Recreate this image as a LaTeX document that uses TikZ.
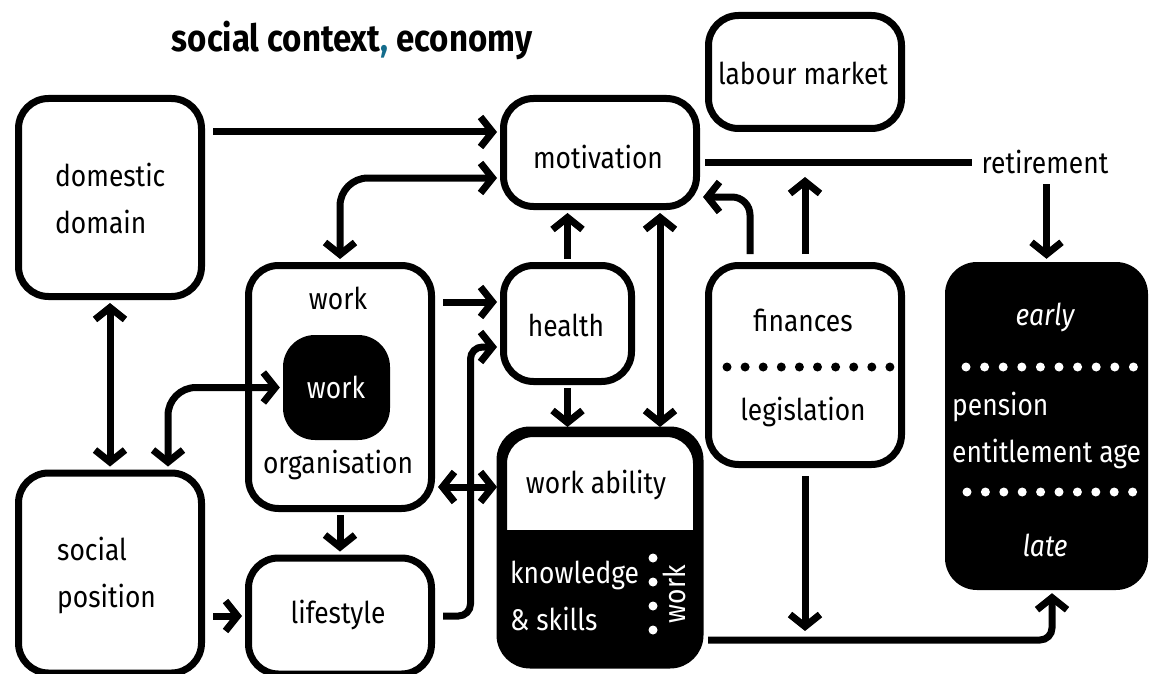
\documentclass[tikz,border=0pt]{standalone}
\usepackage{fontspec}
\setmainfont{Fira Sans}[FakeStretch=0.88]
\usetikzlibrary{arrows.meta,calc}
\definecolor{commateal}{HTML}{136C8C}

\begin{document}
\begin{tikzpicture}[x=1pt,y=-1pt,
  box/.style={draw=black, line width=7pt, rounded corners=30pt, fill=white, inner sep=0pt},
  solid box/.style={draw=none, fill=black, rounded corners=32pt, inner sep=0pt},
  lbl/.style={font=\fontsize{30}{47}\selectfont, inner sep=0pt, text=black},
  wlbl/.style={lbl, text=white},
  conn/.style={line width=7pt},
  tip/.tip={Straight Barb[sharp, length=12pt, width=30pt]},
  arr/.style={conn, -tip, shorten <=8pt, shorten >=3pt},
  arrtwo/.style={conn, tip-tip, shorten <=3pt, shorten >=3pt},
  dot/.style={circle, fill=white, inner sep=0pt, minimum size=9pt},
  bdot/.style={circle, fill=black, inner sep=0pt, minimum size=9pt},
]
\useasboundingbox (0,0) rectangle (1154,674);

% heading
\node[lbl, font=\fontsize{37.5}{44}\selectfont\bfseries] (title) at (352,40)
  {social context\textcolor{commateal}{,} economy};

% boxes
\node[box, minimum width=183pt, minimum height=198pt] (dom) at (110,197.5) {};
\node[box, minimum width=183pt, minimum height=200pt] (soc) at (110,573) {};
\node[box, minimum width=183pt, minimum height=243pt] (wo) at (340,387) {};
\node[solid box, minimum width=107pt, minimum height=105pt] (iw) at (336.5,387.5) {};
\node[box, minimum width=183pt, minimum height=116pt] (life) at (340,616) {};
\node[box, minimum width=193pt, minimum height=108pt] (mot) at (600,152.5) {};
\node[box, minimum width=128pt, minimum height=116pt] (health) at (567.5,323.5) {};
\node[box, minimum width=193pt, minimum height=228pt] (wa) at (600,547.5) {};
\node[box, minimum width=193pt, minimum height=113pt] (lab) at (805,72) {};
\node[box, minimum width=193pt, minimum height=199pt] (fin) at (805,365) {};
\node[solid box, minimum width=203pt, minimum height=328pt] (pen) at (1046.5,426) {};

% lower, filled part of the work ability box
\begin{scope}
  \clip[rounded corners=30pt] (wa.south west) rectangle (wa.north east);
  \fill[black] (wa.west |- 0,530) rectangle (wa.south east);
\end{scope}
\draw[line width=7pt, rounded corners=30pt] (wa.south west) rectangle (wa.north east);

% labels
\node[lbl, align=left, anchor=west] (domt) at (55,198) {domestic\\domain};
\node[lbl, align=left, anchor=west] (soct) at (57,575) {social\\position};
\node[lbl] (wot) at (338,298) {work};
\node[lbl] (wob) at (338,465) {organisation};
\node[wlbl] (iwt) at (336,387) {work};
\node[lbl] (lifet) at (338,615) {lifestyle};
\node[lbl] (mott) at (598,157) {motivation};
\node[lbl] (healtht) at (566,325) {health};
\node[lbl] (wat) at (596,485) {work ability};
\node[wlbl, align=left, anchor=west] (kst) at (510,596) {knowledge\\\& skills};
\node[wlbl, rotate=90] (wkt) at (674,594) {work};
\foreach \yy [count=\i] in {558,582,606,630}
  \node[dot] (wd\i) at (653,\yy) {};
\node[lbl] (labt) at (803,73) {labour market};
\node[lbl] (fint) at (803,320) {finances};
\foreach \i in {0,...,9}
  \node[bdot] (fd\i) at ({727+18.1*\i},367) {};
\node[lbl] (legt) at (803,412) {legislation};
\node[lbl] (ret) at (1045,162) {retirement};
\node[wlbl, font=\fontsize{30}{47}\selectfont\itshape] (early) at (1045,317) {early};
\foreach \i in {0,...,9}
  \node[dot] (pd\i) at ({966+18.6*\i},367) {};
\node[wlbl, align=left, anchor=west] (pent) at (952,430) {pension\\entitlement age};
\foreach \i in {0,...,9}
  \node[dot] (qd\i) at ({967+18.4*\i},492) {};
\node[wlbl, font=\fontsize{30}{47}\selectfont\itshape] (late) at (1045,545) {late};

% attachment points on box borders
\coordinate (motA) at ([yshift=20.5pt]mot.west);
\coordinate (motB) at ([yshift=-25.5pt]mot.west);
\coordinate (motC) at ([yshift=-44.5pt]mot.east);
\coordinate (motD) at ([yshift=-10.5pt]mot.east);
\coordinate (healthA) at ([yshift=21.5pt]health.west);
\coordinate (healthB) at ([yshift=-23.5pt]health.west);
\coordinate (waA) at ([yshift=60.5pt]wa.west);
\coordinate (waB) at ([yshift=-92.5pt]wa.east);

% connectors
\draw[arr] (dom.east |- motA) -- (motA);
\draw[arrtwo, rounded corners=28pt] (motB) -| (wo.north);
\draw[arr] (wo.east |- healthA) -- (healthA);
\draw[arr, rounded corners=12pt] (life.east) -- ++(35.5,0) |- (healthB);
\draw[arr, shorten <=3pt] (health.north) -- (health.north |- mot.south);
\draw[arr, shorten <=3pt] (health.south) -- (health.south |- wa.north);
\draw[arrtwo] ([xshift=60pt]mot.south) -- ([xshift=60pt]wa.north);
\draw[arrtwo] (wo.east |- waA) -- (waA);
\draw[arr, shorten <=3pt] (wo.south) -- (life.north);
\draw[arr] (soc.east |- life.west) -- (life.west);
\draw[arrtwo] (dom.south) -- (soc.north);
\draw[arrtwo, rounded corners=28pt] (iw.west) -| ([xshift=58pt]soc.north);
\draw[conn, shorten <=5pt, shorten >=10pt] (motD) -- (motD -| ret.west);
\draw[arr, shorten <=10pt] (ret.south -| pen.north) -- (pen.north);
\draw[arr, shorten >=45pt] (fin.north) -- (lab.south);
\draw[arr, rounded corners=18pt] ([xshift=-55pt]fin.north) |- (motC);
\draw[arr, rounded corners=12pt] (waB) -| ([xshift=5.5pt]pen.south);
\draw[arr, shorten >=9pt] (fin.south) -- (fin.south |- waB);
\end{tikzpicture}
\end{document}
